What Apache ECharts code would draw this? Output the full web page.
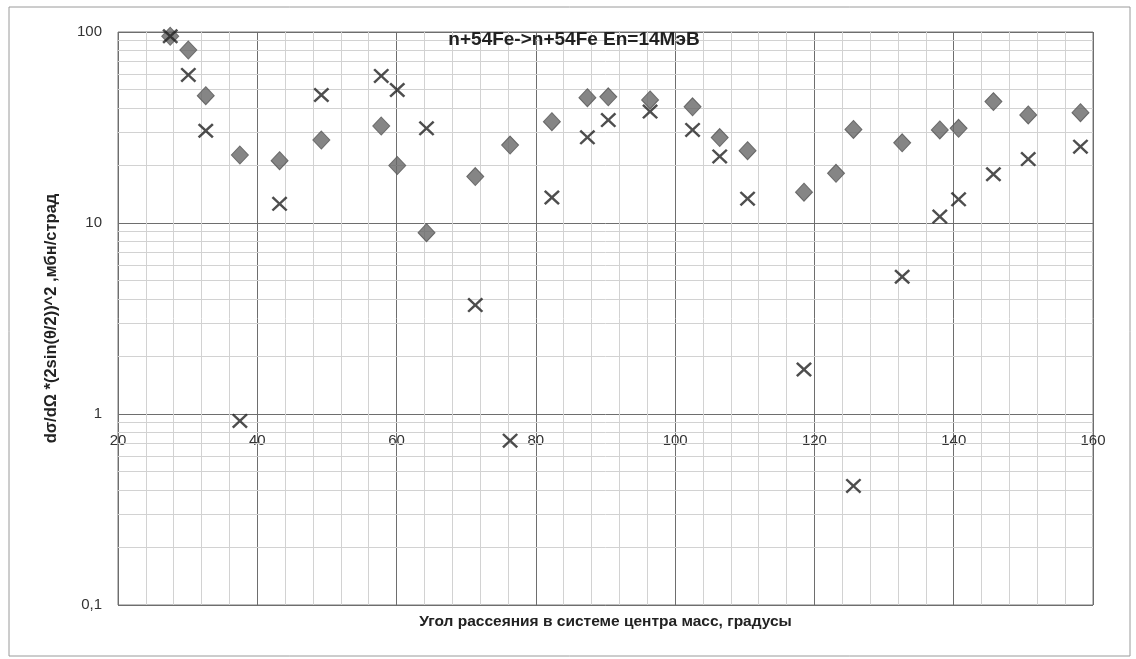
<!DOCTYPE html>
<html>
<head>
<meta charset="utf-8">
<script src="https://cdn.jsdelivr.net/npm/echarts@6/dist/echarts.min.js"></script>
<style>
html,body{margin:0;padding:0;background:#fff;}
#chart{width:1136px;height:659px;}
</style>
</head>
<body>
<div id="chart"></div>
<script>
// Scattering angles (centre-of-mass system, degrees)
const angles = [27.5, 30.1, 32.6, 37.5, 43.2, 49.2, 57.8, 60.1, 64.3, 71.3, 76.3, 82.3, 87.4, 90.4, 96.4, 102.5, 106.4, 110.4, 118.5, 123.1, 125.6, 132.6, 138.0, 140.7, 145.7, 150.7, 158.2];
// Series drawn with diamonds
const diamondValues = [95, 80.5, 46.4, 22.7, 21.2, 27.2, 32.2, 20.0, 8.9, 17.5, 25.6, 33.9, 45.3, 45.8, 44.1, 40.6, 28.0, 23.9, 14.5, 18.2, 30.9, 26.3, 30.7, 31.3, 43.2, 36.8, 37.8];
// Series drawn with crosses
const crossValues = [95, 59.6, 30.4, 0.92, 12.6, 46.8, 58.9, 49.7, 31.3, 3.72, 0.725, 13.6, 28.1, 34.6, 38.3, 30.7, 22.3, 13.4, 1.71, null, 0.42, 5.23, 10.8, 13.3, 18.0, 21.6, 25.1];
// Minor horizontal gridlines (log axis, 2..9 of each decade)
const minorGridY = [0.2,0.3,0.4,0.5,0.6,0.7,0.8,0.9, 2,3,4,5,6,7,8,9, 20,30,40,50,60,70,80,90];
const titleText = 'n+54Fe->n+54Fe En=14МэВ';
const xTitle = 'Угол рассеяния в системе центра масс, градусы';
const yTitle = 'dσ/dΩ *(2sin(θ/2))^2 ,мбн/страд';

const pairs = (xs, ys) => xs.map((x, i) => ys[i] == null ? null : [x, ys[i]]).filter(Boolean);

const chart = echarts.init(document.getElementById('chart'), null, {renderer: 'canvas'});
const crossPath = 'path://M0,1.1 L1.1,0 L5,3.9 L8.9,0 L10,1.1 L6.1,5 L10,8.9 L8.9,10 L5,6.1 L1.1,10 L0,8.9 L3.9,5 Z';
chart.setOption({
  animation: false,
  backgroundColor: '#ffffff',
  textStyle: {fontFamily: 'Liberation Sans'},
  graphic: [
    {type: 'rect', shape: {x: 9, y: 7, width: 1121, height: 649}, style: {fill: 'none', stroke: '#9a9a9a', lineWidth: 1}, z: -10},
    {type: 'text', x: 574, y: 40, style: {text: titleText, fill: '#222', font: 'bold 19px "Liberation Sans"', textAlign: 'center', textVerticalAlign: 'middle'}, z: 100}
  ],
  grid: {left: 118, right: 43, top: 32, bottom: 54, show: true, borderColor: '#7a7a7a', borderWidth: 1},
  xAxis: {
    type: 'value', min: 20, max: 160, interval: 20,
    name: xTitle, nameLocation: 'middle', nameGap: 9,
    nameTextStyle: {fontWeight: 'bold', fontSize: 15.5, color: '#222', fontFamily: 'Liberation Sans'},
    axisLine: {show: false}, axisTick: {show: false},
    axisLabel: {margin: -172, color: '#333', fontSize: 15, showMinLabel: true, showMaxLabel: true},
    splitLine: {show: true, lineStyle: {color: '#6e6e6e', width: 1}},
    minorTick: {show: false, splitNumber: 5},
    minorSplitLine: {show: true, lineStyle: {color: '#d2d2d2', width: 1}}
  },
  yAxis: {
    type: 'log', logBase: 10, min: 0.1, max: 100,
    name: yTitle, nameLocation: 'middle', nameGap: 58, nameRotate: 90,
    nameTextStyle: {fontWeight: 'bold', fontSize: 16.5, color: '#222', fontFamily: 'Liberation Sans'},
    axisLine: {show: false}, axisTick: {show: false},
    axisLabel: {margin: 16, color: '#333', fontSize: 15, formatter: v => String(v).replace('.', ',')},
    splitLine: {show: true, lineStyle: {color: '#6e6e6e', width: 1}}
  },
  series: [
    {
      type: 'scatter', name: 'grid', data: [], silent: true,
      markLine: {
        silent: true, symbol: 'none', label: {show: false}, z: 1,
        lineStyle: {color: '#d2d2d2', width: 1, type: 'solid'},
        emphasis: {disabled: true},
        data: minorGridY.map(v => ({yAxis: v}))
      },
      z: 0
    },
    {
      type: 'scatter', name: 'diamonds', data: pairs(angles, diamondValues),
      symbol: 'diamond', symbolSize: [17, 18],
      itemStyle: {color: '#676767', borderColor: '#555', borderWidth: 1},
      z: 3
    },
    {
      type: 'scatter', name: 'crosses', data: pairs(angles, crossValues),
      symbol: crossPath, symbolSize: [16, 15],
      itemStyle: {color: '#222'},
      z: 4
    }
  ]
});
</script>
</body>
</html>
